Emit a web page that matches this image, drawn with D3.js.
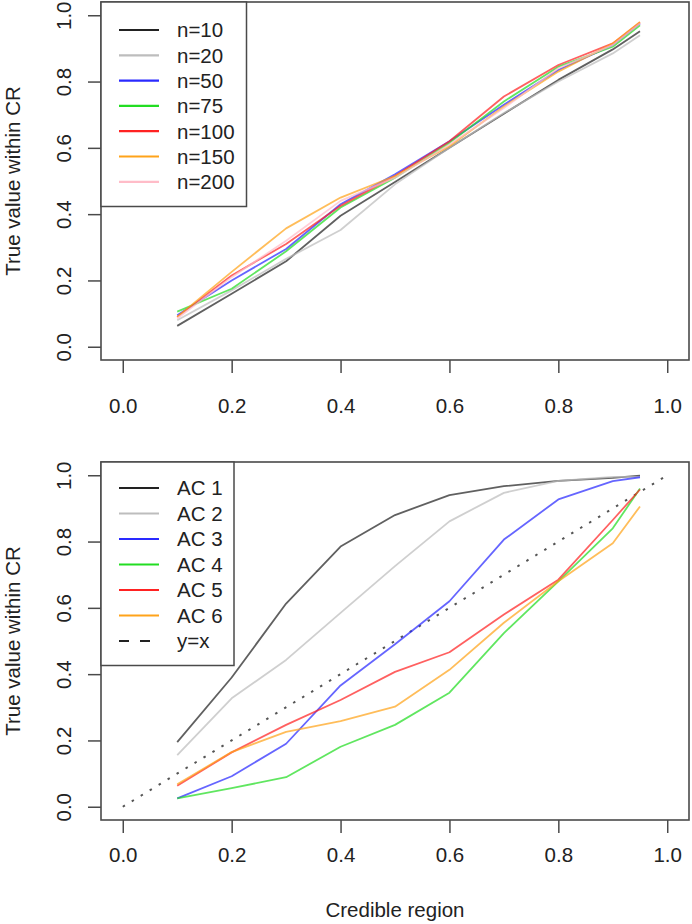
<!DOCTYPE html>
<html>
<head>
<meta charset="utf-8">
<script src="https://cdn.jsdelivr.net/npm/d3@7"></script>
<style>
  html, body { margin: 0; padding: 0; background: #fff; }
  svg { display: block; font-family: "Liberation Sans", Arial, Helvetica, sans-serif; }
</style>
</head>
<body>
<svg id="chart" width="692" height="924"></svg>
<script>
// ---------- data ----------
const crLevels = [0.1, 0.2, 0.3, 0.4, 0.5, 0.6, 0.7, 0.8, 0.9, 0.95];
const axisTicks = [0, 0.2, 0.4, 0.6, 0.8, 1.0];

const topLabels = ["n=10", "n=20", "n=50", "n=75", "n=100", "n=150", "n=200"];
const topColors = ["#222222", "#bdbdbd", "#2a2aff", "#22dd22", "#ff2222", "#ffa31a", "#ffbcc8"];
const n10  = [0.063, 0.160, 0.258, 0.395, 0.497, 0.600, 0.703, 0.805, 0.897, 0.952];
const n20  = [0.080, 0.170, 0.265, 0.352, 0.490, 0.600, 0.705, 0.800, 0.885, 0.940];
const n50  = [0.095, 0.200, 0.295, 0.430, 0.520, 0.620, 0.730, 0.835, 0.910, 0.975];
const n75  = [0.106, 0.175, 0.288, 0.420, 0.510, 0.615, 0.740, 0.845, 0.905, 0.970];
const n100 = [0.090, 0.215, 0.310, 0.425, 0.515, 0.620, 0.755, 0.850, 0.915, 0.978];
const n150 = [0.090, 0.226, 0.357, 0.450, 0.515, 0.605, 0.725, 0.830, 0.915, 0.980];
const n200 = [0.085, 0.210, 0.320, 0.440, 0.510, 0.610, 0.720, 0.840, 0.910, 0.975];
const topSeries = [n10, n20, n50, n75, n100, n150, n200];

const botLabels = ["AC 1", "AC 2", "AC 3", "AC 4", "AC 5", "AC 6"];
const botColors = ["#222222", "#bdbdbd", "#2a2aff", "#22dd22", "#ff2222", "#ffa31a"];
const ac1 = [0.195, 0.390, 0.613, 0.785, 0.880, 0.940, 0.967, 0.983, 0.992, 0.999];
const ac2 = [0.156, 0.327, 0.443, 0.585, 0.726, 0.861, 0.947, 0.983, 0.995, 0.995];
const ac3 = [0.025, 0.092, 0.190, 0.366, 0.490, 0.620, 0.806, 0.927, 0.982, 0.994];
const ac4 = [0.025, 0.056, 0.089, 0.181, 0.247, 0.344, 0.524, 0.680, 0.840, 0.960];
const ac5 = [0.063, 0.164, 0.247, 0.322, 0.407, 0.466, 0.580, 0.685, 0.865, 0.957];
const ac6 = [0.068, 0.165, 0.226, 0.258, 0.302, 0.413, 0.555, 0.680, 0.795, 0.906];
const botSeries = [ac1, ac2, ac3, ac4, ac5, ac6];
const refLine = [0, 1];   // y = x
const refLabel = "y=x";

const yTitle = "True value within CR";
const xTitle = "Credible region";

// ---------- drawing ----------
const svg = d3.select("#chart");
const FONT = 20.5;
const AXIS_COL = "#4a4a4a";
const TXT_COL = "#222";

function panel(opt) {
  const g = svg.append("g");
  const x = d3.scaleLinear().domain([-0.04, 1.04]).range([opt.left, opt.right]);
  const y = d3.scaleLinear().domain([-0.04, 1.04]).range([opt.bottom, opt.top]);

  const line = d3.line().x((d, i) => x(crLevels[i])).y(d => y(d));

  // reference line
  if (opt.ref) {
    g.append("line")
      .attr("x1", x(refLine[0])).attr("y1", y(refLine[0]))
      .attr("x2", x(refLine[1])).attr("y2", y(refLine[1]))
      .attr("stroke", "#555").attr("stroke-width", 2)
      .attr("stroke-dasharray", "2.5,8")
      .attr("stroke-linecap", "butt");
  }

  opt.series.forEach((s, k) => {
    g.append("path").datum(s)
      .attr("d", line)
      .attr("fill", "none")
      .attr("stroke", opt.colors[k])
      .attr("stroke-opacity", 0.72)
      .attr("stroke-width", 1.8)
      .attr("stroke-linejoin", "round");
  });

  // x axis
  const xa = g.append("g").attr("transform", `translate(0,${opt.bottom})`)
    .call(d3.axisBottom(x).tickValues(axisTicks).tickFormat(d3.format(".1f"))
      .tickSizeOuter(0).tickSize(13).tickPadding(opt.xPad));
  xa.select(".domain").remove();
  xa.selectAll("line").attr("stroke", AXIS_COL).attr("stroke-width", 1.5);
  xa.selectAll("text").attr("font-size", FONT).attr("fill", TXT_COL)
    .attr("font-family", "Liberation Sans, Arial, Helvetica, sans-serif");

  // y axis
  const ya = g.append("g").attr("transform", `translate(${opt.left},0)`)
    .call(d3.axisLeft(y).tickValues(axisTicks).tickFormat(d3.format(".1f"))
      .tickSizeOuter(0).tickSize(13));
  ya.select(".domain").remove();
  ya.selectAll("line").attr("stroke", AXIS_COL).attr("stroke-width", 1.5);
  ya.selectAll("text")
    .attr("x", null).attr("dy", null).attr("y", 0)
    .attr("text-anchor", "middle")
    .attr("transform", "translate(-30.5,0) rotate(-90)")
    .attr("font-size", FONT).attr("fill", TXT_COL)
    .attr("font-family", "Liberation Sans, Arial, Helvetica, sans-serif");

  // box
  g.append("rect")
    .attr("x", opt.left).attr("y", opt.top)
    .attr("width", opt.right - opt.left).attr("height", opt.bottom - opt.top)
    .attr("fill", "none").attr("stroke", AXIS_COL).attr("stroke-width", 1.6);

  // y title
  g.append("text")
    .attr("transform", `translate(20,${(opt.top + opt.bottom) / 2}) rotate(-90)`)
    .attr("text-anchor", "middle").attr("font-size", FONT).attr("fill", TXT_COL)
    .text(yTitle);

  // legend
  const L = opt.legend;
  const lg = g.append("g");
  lg.append("rect")
    .attr("x", opt.left).attr("y", opt.top)
    .attr("width", L.w).attr("height", L.h)
    .attr("fill", "#fff").attr("stroke", AXIS_COL).attr("stroke-width", 1.5);
  L.items.forEach((it, i) => {
    const yy = opt.top + L.first + i * L.step;
    lg.append("line")
      .attr("x1", 119).attr("x2", 159).attr("y1", yy).attr("y2", yy)
      .attr("stroke", it.color).attr("stroke-width", 2.2)
      .attr("stroke-dasharray", it.dash || null);
    lg.append("text")
      .attr("x", 177).attr("y", yy).attr("dy", "0.36em")
      .attr("font-size", FONT).attr("fill", TXT_COL)
      .text(it.label);
  });
  return { x, y };
}

panel({
  left: 101, right: 689, top: 2, bottom: 360, xPad: 25,
  series: topSeries, colors: topColors, ref: false,
  legend: {
    w: 145.5, h: 204.5, first: 28, step: 25.3,
    items: topLabels.map((l, i) => ({ label: l, color: topColors[i] }))
  }
});

panel({
  left: 101, right: 689, top: 462, bottom: 820, xPad: 14,
  series: botSeries, colors: botColors, ref: true,
  legend: {
    w: 133, h: 203.5, first: 26, step: 25.5,
    items: botLabels.map((l, i) => ({ label: l, color: botColors[i] }))
      .concat([{ label: refLabel, color: "#222", dash: "10,11" }])
  }
});

svg.append("text")
  .attr("x", 395).attr("y", 917)
  .attr("text-anchor", "middle").attr("font-size", FONT).attr("fill", TXT_COL)
  .text(xTitle);
</script>
</body>
</html>
